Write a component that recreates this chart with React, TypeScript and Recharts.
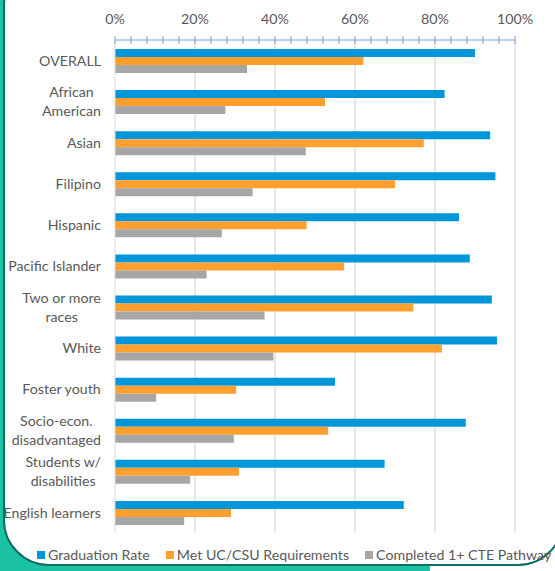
import React from 'react';
import { BarChart, Bar, XAxis, YAxis, Legend, CartesianGrid } from 'recharts';

const categories = [
  'OVERALL',
  'African\nAmerican',
  'Asian',
  'Filipino',
  'Hispanic',
  'Pacific Islander',
  'Two or more\nraces',
  'White',
  'Foster youth',
  'Socio-econ.\ndisadvantaged',
  'Students w/\ndisabilities',
  'English learners',
];
const graduationRate = [90, 82.4, 93.8, 95.1, 86, 88.7, 94.2, 95.5, 55, 87.7, 67.4, 72.2];
const metUcCsu = [62.1, 52.5, 77.2, 70, 47.9, 57.3, 74.6, 81.7, 30.3, 53.3, 31, 29];
const completedCte = [33, 27.6, 47.7, 34.4, 26.7, 22.9, 37.4, 39.6, 10.3, 29.7, 18.8, 17.3];
const xTicks = [0, 4, 8, 12, 16, 20, 24, 28, 32, 36, 40, 44, 48, 52, 56, 60, 64, 68, 72, 76, 80, 84, 88, 92, 96, 100];
const majorTicks = [20, 40, 60, 80, 100];
const seriesNames = ['Graduation Rate', 'Met UC/CSU Requirements', 'Completed 1+ CTE Pathway'];

const data = categories.map((name, i) => ({
  name,
  grad: graduationRate[i],
  ucsu: metUcCsu[i],
  cte: completedCte[i],
}));

const FONT = 'Lato, "Open Sans", sans-serif';
const FONT_SIZE = 14.2;
const TEXT = '#595959';
const AXIS_BLUE = '#7d9ddb';
const GRID = '#dadada';

let ctx: CanvasRenderingContext2D | null = null;
const measure = (s: string) => {
  if (!ctx) {
    const c = document.createElement('canvas');
    ctx = c.getContext('2d');
  }
  if (!ctx) return s.length * 6.5;
  ctx.font = `${FONT_SIZE}px Lato`;
  return ctx.measureText(s).width;
};

const YTick = (props: any) => {
  const { x, y, payload } = props;
  const lines = String(payload.value).split('\n');
  const w = Math.max(...lines.map(measure));
  const cx = x - w / 2;
  const lh = 18.8;
  const start = y - ((lines.length - 1) * lh) / 2;
  return (
    <text textAnchor="middle" fill={TEXT} fontSize={FONT_SIZE} fontFamily={FONT}>
      {lines.map((l, i) => (
        <tspan key={i} x={cx} y={start + i * lh} dy="0.36em">
          {l}
        </tspan>
      ))}
    </text>
  );
};

const XTick = (props: any) => {
  const { x, y, payload } = props;
  const v = payload.value as number;
  return (
    <g>
      <line x1={x} x2={x} y1={y - 4} y2={y + 4} stroke={AXIS_BLUE} strokeWidth={1} />
      {v % 20 === 0 && (
        <text x={x} y={y - 21} dy="0.36em" textAnchor="middle" fill={TEXT} fontSize={FONT_SIZE} fontFamily={FONT}>
          {v}%
        </text>
      )}
    </g>
  );
};

const LegendContent = (props: any) => {
  const payload = [...(props.payload || [])].sort(
    (a: any, b: any) => seriesNames.indexOf(a.value) - seriesNames.indexOf(b.value)
  );
  return (
    <div style={{ display: 'flex', fontFamily: FONT, fontSize: FONT_SIZE, color: TEXT, whiteSpace: 'nowrap' }}>
      {payload.map((p: any, i: number) => (
        <span key={i} style={{ display: 'flex', alignItems: 'center', marginRight: 16 }}>
          <span style={{ display: 'inline-block', width: 8, height: 8, background: p.color, marginRight: 3 }} />
          {p.value}
        </span>
      ))}
    </div>
  );
};

export default function App() {
  return (
    <div style={{ position: 'absolute', left: 0, top: 0, width: 555, height: 571, overflow: 'hidden', background: '#ffffff' }}>
      <div style={{ position: 'absolute', left: 0, top: 0, width: 430, height: 571, background: '#1cc2a4' }} />
      <div
        style={{
          position: 'absolute',
          left: 3,
          top: -40,
          width: 561,
          height: 606,
          background: '#ffffff',
          border: '2px solid #0c6f62',
          borderRadius: 46,
          boxSizing: 'border-box',
        }}
      />
      <div style={{ position: 'absolute', left: 0, top: 0 }}>
        <BarChart
          width={555}
          height={571}
          data={data}
          layout="vertical"
          margin={{ top: 0, right: 40, bottom: 38, left: 0 }}
          barGap={0}
          barSize={8}
        >
          <CartesianGrid horizontal={false} vertical={true} verticalValues={majorTicks} stroke={GRID} strokeWidth={1.3} />
          <XAxis
            type="number"
            orientation="top"
            domain={[0, 100]}
            ticks={xTicks}
            interval={0}
            height={40}
            tickLine={false}
            tickSize={0}
            tickMargin={0}
            axisLine={{ stroke: AXIS_BLUE, strokeWidth: 1.2 }}
            tick={<XTick />}
          />
          <YAxis
            type="category"
            dataKey="name"
            width={115}
            interval={0}
            tickLine={false}
            tickSize={0}
            tickMargin={14}
            axisLine={{ stroke: GRID }}
            tick={<YTick />}
          />
          <Bar dataKey="grad" name={seriesNames[0]} fill="#0096da" isAnimationActive={false} />
          <Bar dataKey="ucsu" name={seriesNames[1]} fill="#ff9f2e" isAnimationActive={false} />
          <Bar dataKey="cte" name={seriesNames[2]} fill="#a6a6a6" isAnimationActive={false} />
          <Legend
            layout="horizontal"
            verticalAlign="middle"
            align="center"
            wrapperStyle={{ top: 546, left: 37, width: 600 }}
            content={<LegendContent />}
          />
        </BarChart>
      </div>
    </div>
  );
}
